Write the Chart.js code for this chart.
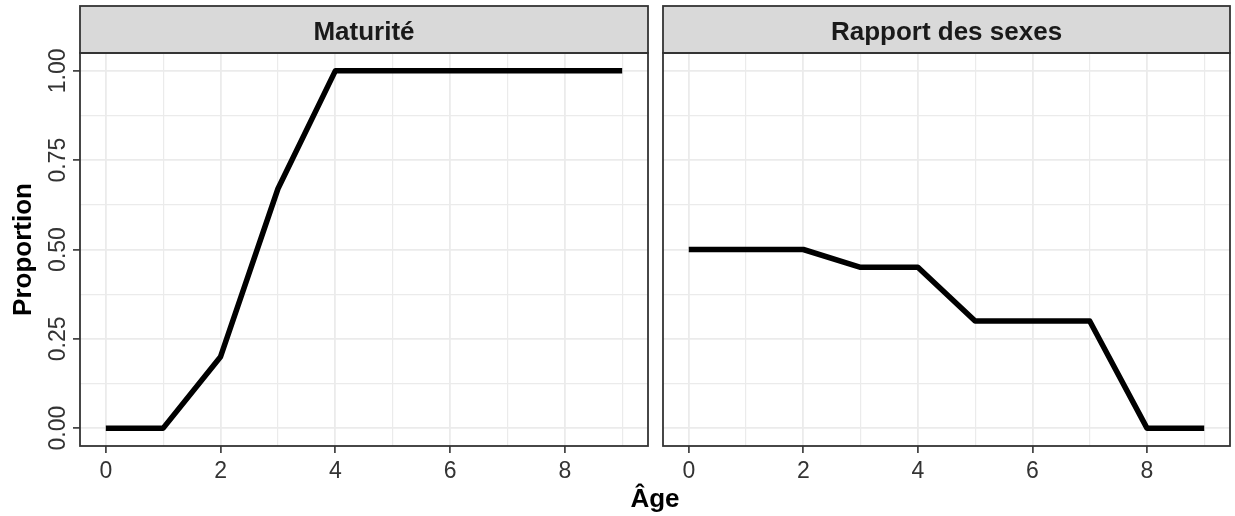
<!DOCTYPE html>
<html>
<head>
<meta charset="utf-8">
<script src="https://cdn.jsdelivr.net/npm/chart.js@4.4.1/dist/chart.umd.min.js"></script>
<style>
  body { margin: 0; background: #fff; width: 1235px; height: 516px; overflow: hidden; position: relative; }
  canvas { position: absolute; top: 0; }
  #left { left: 0; }
  #right { left: 655px; }
  #xtitle { position: absolute; left: 0; width: 1310px; top: 485px; text-align: center;
    font: bold 26px "Liberation Sans", Arial, sans-serif; line-height: 26px; color: #000; }
</style>
</head>
<body>
<canvas id="left" width="655" height="516"></canvas>
<canvas id="right" width="580" height="516"></canvas>
<div id="xtitle">Âge</div>
<script>
// data
var ages = [0, 1, 2, 3, 4, 5, 6, 7, 8, 9];
var maturite = [0, 0, 0.2, 0.67, 1, 1, 1, 1, 1, 1];
var rapportSexes = [0.5, 0.5, 0.5, 0.45, 0.45, 0.3, 0.3, 0.3, 0, 0];
var panelTitles = ['Maturité', 'Rapport des sexes'];
var xTicks = [0, 1, 2, 3, 4, 5, 6, 7, 8, 9];        // majors + minors
var xLabels = [0, 2, 4, 6, 8];
var yTicks = [0, 0.125, 0.25, 0.375, 0.5, 0.625, 0.75, 0.875, 1];
var yLabels = [0, 0.25, 0.5, 0.75, 1];

var FONT = '"Liberation Sans", Arial, sans-serif';

function isMajorX(v) { return xLabels.indexOf(v) >= 0; }
function isMajorY(v) { return yLabels.some(function (l) { return Math.abs(l - v) < 1e-9; }); }

// strip on top + panel border, like facet_wrap with theme_bw
var facetPlugin = {
  id: 'facet',
  afterDraw: function (chart) {
    var a = chart.chartArea, c = chart.ctx;
    c.save();
    c.fillStyle = '#d9d9d9';
    c.fillRect(a.left, 6, a.right - a.left, a.top - 6);
    c.strokeStyle = '#333333';
    c.lineWidth = 1.8;
    c.strokeRect(a.left, 6, a.right - a.left, a.top - 6);
    c.strokeRect(a.left, a.top, a.right - a.left, a.bottom - a.top);
    c.fillStyle = '#1a1a1a';
    c.font = 'bold 26px ' + FONT;
    c.textAlign = 'center';
    c.textBaseline = 'alphabetic';
    c.fillText(chart.options.plugins.facet.title, (a.left + a.right) / 2, 40);
    c.restore();
  }
};

// rotated y labels (read bottom to top)
var yLabelPlugin = {
  id: 'ylabels',
  afterDraw: function (chart) {
    if (!chart.options.plugins.ylabels.show) return;
    var c = chart.ctx, ys = chart.scales.y;
    c.save();
    c.fillStyle = '#333333';
    c.font = '23px ' + FONT;
    c.textAlign = 'center';
    c.textBaseline = 'middle';
    yLabels.forEach(function (v) {
      c.save();
      c.translate(59, ys.getPixelForValue(v));
      c.rotate(-Math.PI / 2);
      c.fillText(v.toFixed(2), 0, 0);
      c.restore();
    });
    c.restore();
  }
};

function makePanel(id, values, title, first) {
  var pts = ages.map(function (a, i) { return { x: a, y: values[i] }; });
  return new Chart(document.getElementById(id), {
    type: 'line',
    data: {
      datasets: [{
        data: pts,
        borderColor: '#000000',
        borderWidth: 5.5,
        borderJoinStyle: 'round',
        borderCapStyle: 'butt',
        pointRadius: 0,
        tension: 0
      }]
    },
    options: {
      responsive: false,
      animation: false,
      layout: { padding: first ? { left: 0, right: 7, top: 53, bottom: 0 } : { left: 8, right: 5, top: 53, bottom: 0 } },
      plugins: {
        legend: { display: false },
        tooltip: { enabled: false },
        facet: { title: title },
        ylabels: { show: first }
      },
      scales: {
        x: {
          type: 'linear',
          min: -0.45,
          max: 9.45,
          afterBuildTicks: function (s) { s.ticks = xTicks.map(function (v) { return { value: v }; }); },
          afterFit: function (s) { s.height = 70; },
          border: { display: false },
          grid: {
            color: '#ebebeb',
            lineWidth: function (ctx) { return isMajorX(ctx.tick.value) ? 1.8 : 1.2; },
            tickLength: 7,
            tickWidth: 1.6,
            tickColor: function (ctx) { return isMajorX(ctx.tick.value) ? '#333333' : 'rgba(0,0,0,0)'; }
          },
          ticks: {
            autoSkip: false,
            maxRotation: 0,
            padding: 5,
            color: '#333333',
            font: { family: FONT, size: 23 },
            callback: function (v) { return isMajorX(v) ? String(v) : ''; }
          }
        },
        y: {
          min: -0.05,
          max: 1.05,
          afterBuildTicks: function (s) { s.ticks = yTicks.map(function (v) { return { value: v }; }); },
          afterFit: function (s) { s.width = first ? 80 : 0; },
          border: { display: false },
          title: {
            display: first,
            text: 'Proportion',
            color: '#000000',
            font: { family: FONT, size: 26, weight: 'bold' },
            padding: { top: 8, bottom: 0 }
          },
          grid: {
            color: '#ebebeb',
            lineWidth: function (ctx) { return isMajorY(ctx.tick.value) ? 1.8 : 1.2; },
            drawTicks: first,
            tickLength: 7,
            tickWidth: 1.6,
            tickColor: function (ctx) { return isMajorY(ctx.tick.value) ? '#333333' : 'rgba(0,0,0,0)'; }
          },
          ticks: { display: false }
        }
      }
    },
    plugins: [facetPlugin, yLabelPlugin]
  });
}

makePanel('left', maturite, panelTitles[0], true);
makePanel('right', rapportSexes, panelTitles[1], false);
</script>
</body>
</html>
